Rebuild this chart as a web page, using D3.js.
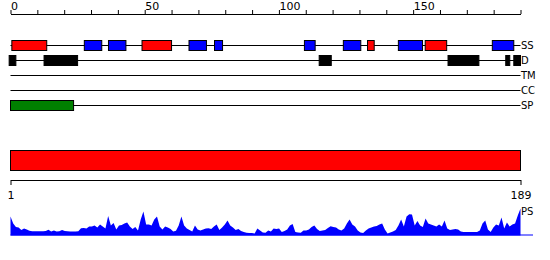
<!DOCTYPE html>
<html>
<head>
<meta charset="utf-8">
<script src="https://cdn.jsdelivr.net/npm/d3@7"></script>
<style>
body { margin: 0; background: #fff; }
text { font-family: "DejaVu Sans", sans-serif; }
</style>
</head>
<body>
<div id="chart"></div>
<script>
// feature tracks, positions in residues
var rowNames = ["SS", "D", "TM", "CC", "SP"];
var helices = [[0.5, 13.5], [49, 60], [133, 135.5], [154.5, 162.5]];
var strands = [[27.5, 34], [36.5, 43], [66.5, 73], [76, 79], [109.5, 113.5], [124, 130.5], [144.5, 153.5], [179.5, 187.5]];
var disorder = [[-0.5, 2], [12.5, 25], [115, 119.5], [163, 174.5], [184.5, 186], [187.5, 190]];
var transmembrane = [];
var coiledCoil = [];
var signalPeptide = [[0, 23.5]];

var topTicks = d3.range(0, 191, 10);
var topLabels = [0, 50, 100, 150];
var seqTicks = [1, 189];

// per residue profile (PS), residues 1..189
var profile = [
  .63,.40,.28,.27,.18,.23,.20,.16,.14,.14, .14,.14,.14,.15,.19,.13,.17,.13,.14,.18,
  .15,.14,.13,.13,.13,.14,.24,.25,.23,.30, .30,.33,.27,.37,.30,.23,.65,.33,.42,.20,
  .33,.35,.40,.43,.30,.22,.28,.17,.53,.80, .37,.37,.33,.53,.63,.30,.20,.30,.27,.22,
  .13,.16,.33,.63,.33,.23,.18,.13,.33,.20, .17,.20,.23,.24,.22,.30,.37,.18,.27,.37,
  .50,.33,.27,.18,.22,.15,.12,.09,.08,.08, .07,.23,.17,.10,.09,.17,.13,.23,.22,.23,
  .12,.15,.20,.33,.38,.12,.10,.09,.17,.17, .20,.28,.33,.22,.15,.17,.18,.25,.31,.28,
  .27,.20,.17,.23,.40,.53,.37,.30,.17,.10, .08,.17,.23,.27,.30,.32,.37,.40,.20,.07,
  .10,.13,.18,.33,.53,.30,.63,.71,.70,.33, .48,.33,.28,.57,.40,.37,.33,.30,.37,.30,
  .50,.23,.18,.20,.22,.20,.13,.12,.12,.12, .12,.12,.12,.17,.40,.50,.20,.12,.27,.37,
  .33,.60,.23,.43,.30,.37,.40,.67,.90
];

var width = 550, height = 260;

var svg = d3.select("#chart").append("svg")
    .attr("width", width)
    .attr("height", height);

var x = d3.scaleLinear().domain([0, 190]).range([10.5, 520.5]);
var xSeq = d3.scaleLinear().domain([1, 189]).range([10.5, 520.5]);
var row = d3.scalePoint().domain(rowNames).range([45.5, 105.5]);
var yProf = d3.scaleLinear().domain([0, 1]).range([235.5, 205.5]);

// top ruler
var topAxis = d3.axisTop(x)
    .tickValues(topTicks)
    .tickSize(4)
    .tickSizeOuter(0)
    .tickPadding(0.5)
    .tickFormat(function (d) { return topLabels.indexOf(d) >= 0 ? d : ""; });

var gTop = svg.append("g")
    .attr("transform", "translate(0,14)")
    .call(topAxis);
gTop.selectAll("text")
    .attr("text-anchor", "start")
    .attr("font-size", 11)
    .attr("font-family", "DejaVu Sans")
    .attr("fill", "#000");
gTop.selectAll("line, path").attr("stroke", "#000");

// track lines + labels
var tracks = svg.append("g");
tracks.selectAll("line").data(rowNames).enter().append("line")
    .attr("x1", x(0)).attr("x2", x(190))
    .attr("y1", function (d) { return row(d); })
    .attr("y2", function (d) { return row(d); })
    .attr("stroke", "#000");
tracks.selectAll("text").data(rowNames).enter().append("text")
    .attr("x", x(190) + 0.5)
    .attr("y", function (d) { return row(d); })
    .attr("dy", "0.36em")
    .attr("font-size", 10)
    .text(function (d) { return d; });

function drawBoxes(data, rowName, color) {
    svg.append("g").selectAll("rect").data(data).enter().append("rect")
        .attr("x", function (d) { return x(d[0]); })
        .attr("width", function (d) { return x(d[1]) - x(d[0]); })
        .attr("y", row(rowName) - 5)
        .attr("height", 10)
        .attr("fill", color)
        .attr("stroke", "#000");
}
drawBoxes(helices, "SS", "#ff0000");
drawBoxes(strands, "SS", "#0000ff");
drawBoxes(disorder, "D", "#000");
drawBoxes(transmembrane, "TM", "#ffff00");
drawBoxes(coiledCoil, "CC", "#00ffff");
drawBoxes(signalPeptide, "SP", "#008000");

// whole sequence bar
svg.append("rect")
    .attr("x", xSeq(1)).attr("width", xSeq(189) - xSeq(1))
    .attr("y", 150.5).attr("height", 20)
    .attr("fill", "#ff0000")
    .attr("stroke", "#000");

var seqAxis = d3.axisBottom(xSeq)
    .tickValues(seqTicks)
    .tickSize(5)
    .tickSizeOuter(0)
    .tickPadding(6);
var gSeq = svg.append("g")
    .attr("transform", "translate(0,180)")
    .call(seqAxis);
gSeq.selectAll("text")
    .attr("font-size", 11)
    .attr("font-family", "DejaVu Sans")
    .attr("fill", "#000");
gSeq.selectAll("line, path").attr("stroke", "#000");

// profile area
var area = d3.area()
    .x(function (d, i) { return xSeq(i + 1); })
    .y0(yProf(0))
    .y1(function (d) { return yProf(d); });

svg.append("path")
    .attr("d", area(profile))
    .attr("fill", "#0000ff");

svg.append("line")
    .attr("x1", xSeq(1)).attr("x2", 533)
    .attr("y1", yProf(0) - 0.5).attr("y2", yProf(0) - 0.5)
    .attr("stroke", "#0000ff");

svg.append("text")
    .attr("x", xSeq(189) + 0.5)
    .attr("y", 215)
    .attr("font-size", 10)
    .text("PS");
</script>
</body>
</html>
